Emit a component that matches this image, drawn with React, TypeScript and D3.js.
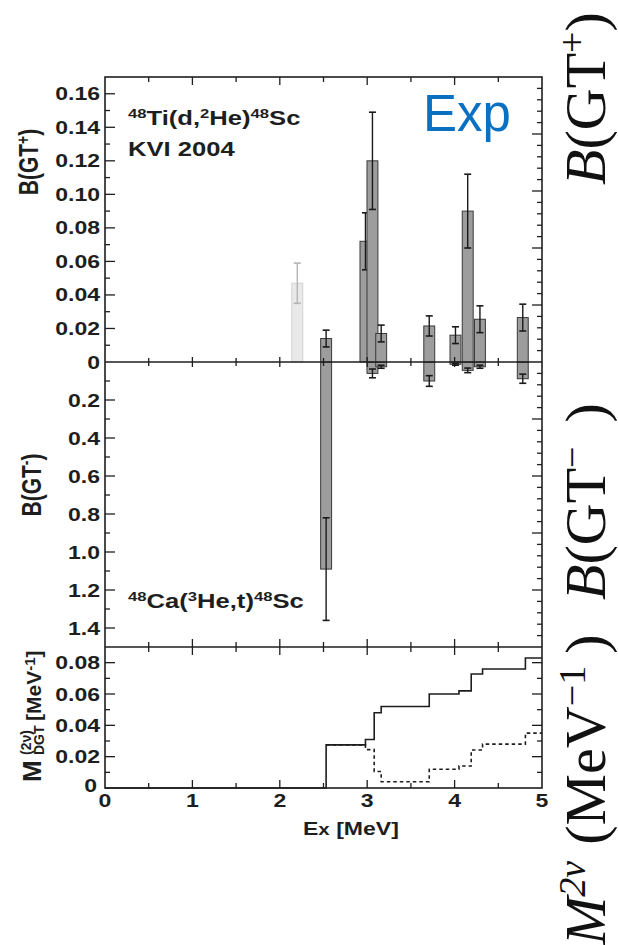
import React from 'react';
import * as d3 from 'd3';

const WIDTH = 618;
const HEIGHT = 945;

// 48Ti(d,2He)48Sc : B(GT+) per level
const plusEx = [2.53, 2.98, 3.06, 3.16, 3.71, 4.01, 4.15, 4.29, 4.78];
const plusB = [0.014, 0.072, 0.12, 0.017, 0.0215, 0.016, 0.09, 0.0255, 0.0265];
const plusErr = [0.005, 0.017, 0.029, 0.005, 0.006, 0.005, 0.022, 0.008, 0.008];
// tentative level, drawn pale
const paleEx = [2.2];
const paleB = [0.047];
const paleErr = [0.012];

// 48Ca(3He,t)48Sc : B(GT-) per level
const minusEx = [2.53, 3.06, 3.16, 3.71, 4.01, 4.15, 4.29, 4.78];
const minusB = [1.09, 0.06, 0.025, 0.1, 0.012, 0.044, 0.025, 0.088];
const minusErr = [0.27, 0.023, 0.008, 0.028, 0.005, 0.012, 0.008, 0.024];

// running sum of M(2v)DGT
const sumEx = [0, 2.53, 2.98, 3.08, 3.16, 3.71, 4.05, 4.19, 4.32, 4.81, 5];
const sumM = [0, 0.0275, 0.031, 0.048, 0.052, 0.06, 0.062, 0.0728, 0.076, 0.083, 0.083];
const dashEx = [2.53, 2.98, 3.08, 3.16, 3.71, 4.05, 4.19, 4.32, 4.81, 5];
const dashM = [0.0275, 0.0245, 0.0105, 0.004, 0.012, 0.014, 0.0243, 0.028, 0.035, 0.035];

const xTickLabels = ['0', '1', '2', '3', '4', '5'];
const plusTickLabels = ['0', '0.02', '0.04', '0.06', '0.08', '0.10', '0.12', '0.14', '0.16'];
const minusTickLabels = ['0.2', '0.4', '0.6', '0.8', '1.0', '1.2', '1.4'];
const sumTickLabels = ['0', '0.02', '0.04', '0.06', '0.08'];

const SANS = '"Liberation Sans", Arial, Helvetica, sans-serif';
const SERIF = '"Liberation Serif", "Times New Roman", serif';
const INK = '#1e1e1e';
const STRETCH = 1.28;

const left = 105, right = 542, top = 77, zero = 362, split = 647, bottom = 788;

const x = d3.scaleLinear().domain([0, 5]).range([left, right]);
const yPlus = d3.scaleLinear().domain([0, 0.17]).range([zero, top]);
const yMinus = d3.scaleLinear().domain([0, 1.5]).range([zero, split]);
const ySum = d3.scaleLinear().domain([0, 0.09]).range([bottom, split]);
// right-hand frame ticks use their own spacing
const rPlus = d3.scaleLinear().domain([0, 5]).range([zero, top]);
const rMinus = d3.scaleLinear().domain([0, 5]).range([zero, split]);

const barW = x(0.125) - x(0);

// parts: [text, raised?, extra props]
function rich(parts: any[], supSize: number, up: number) {
  let off = 0;
  return parts.map((p, i) => {
    const [t, sup, extra] = p;
    const target = sup ? -up : 0;
    const dy = target - off;
    off = target;
    return (
      <tspan key={i} dy={dy} fontSize={sup ? supSize : undefined} {...(extra || {})}>
        {t}
      </tspan>
    );
  });
}

function Stretched({ tx, ty, anchor = 'start', size = 18, children }: any) {
  return (
    <text
      transform={`translate(${tx},${ty}) scale(${STRETCH},1)`}
      textAnchor={anchor}
      fontFamily={SANS}
      fontWeight="bold"
      fontSize={size}
      fill={INK}
    >
      {children}
    </text>
  );
}

function Bar({ cx, y0, y1, e0, e1, fill, stroke, errColor }: any) {
  const ya = Math.min(y0, y1), h = Math.abs(y1 - y0);
  return (
    <g>
      <rect x={cx - barW / 2} y={ya} width={barW} height={h} fill={fill} stroke={stroke} strokeWidth={1} />
      <line x1={cx} x2={cx} y1={e0} y2={e1} stroke={errColor} strokeWidth={1.4} />
      <line x1={cx - 3.5} x2={cx + 3.5} y1={e0} y2={e0} stroke={errColor} strokeWidth={1.6} />
      <line x1={cx - 3.5} x2={cx + 3.5} y1={e1} y2={e1} stroke={errColor} strokeWidth={1.6} />
    </g>
  );
}

export default function App() {
  const ticks: any[] = [];
  const addY = (scale: any, vals: number[], isMajor: (i: number) => boolean, side: 'l' | 'r', key: string) => {
    vals.forEach((v, i) => {
      const len = isMajor(i) ? 10 : 5;
      const yy = scale(v);
      const x0 = side === 'l' ? left : right;
      const x1 = side === 'l' ? left + len : right - len;
      ticks.push(<line key={key + i} x1={x0} x2={x1} y1={yy} y2={yy} stroke={INK} strokeWidth={1.3} />);
    });
  };
  addY(yPlus, d3.range(1, 17).map(i => i * 0.01), i => (i + 1) % 2 === 0, 'l', 'lp');
  addY(yMinus, d3.range(1, 15).map(i => i * 0.1), i => (i + 1) % 2 === 0, 'l', 'lm');
  addY(ySum, d3.range(1, 9).map(i => i * 0.01), i => (i + 1) % 2 === 0, 'l', 'ls');
  addY(rPlus, d3.range(1, 25).map(i => i * 0.2), i => (i + 1) % 5 === 0, 'r', 'rp');
  addY(rMinus, d3.range(1, 25).map(i => i * 0.2), i => (i + 1) % 5 === 0, 'r', 'rm');
  addY(ySum, d3.range(1, 9).map(i => i * 0.01), i => (i + 1) % 2 === 0, 'r', 'rs');

  const xVals = d3.range(1, 10).map(i => i * 0.5);
  xVals.forEach((v, i) => {
    const major = Number.isInteger(v);
    const xx = x(v);
    const l = major ? 8 : 5;
    ticks.push(<line key={'xt' + i} x1={xx} x2={xx} y1={top} y2={top + l} stroke={INK} strokeWidth={1.3} />);
    ticks.push(<line key={'xz' + i} x1={xx} x2={xx} y1={zero - (major ? 5 : 4)} y2={zero + (major ? 5 : 4)} stroke={INK} strokeWidth={1.3} />);
    ticks.push(<line key={'xs' + i} x1={xx} x2={xx} y1={split - l} y2={split + l} stroke={INK} strokeWidth={1.3} />);
    ticks.push(<line key={'xb' + i} x1={xx} x2={xx} y1={bottom - l} y2={bottom} stroke={INK} strokeWidth={1.3} />);
  });

  const sumLine = d3
    .line<number>()
    .x((d, i) => x(sumEx[i]))
    .y(d => ySum(d))
    .curve(d3.curveStepAfter);
  const dashLine = d3
    .line<number>()
    .x((d, i) => x(dashEx[i]))
    .y(d => ySum(d))
    .curve(d3.curveStepAfter);

  return (
    <svg width={WIDTH} height={HEIGHT} style={{ position: 'absolute', left: 0, top: 0, background: '#fff' }}>
      <rect x={0} y={0} width={WIDTH} height={HEIGHT} fill="#fff" />

      {/* pale tentative level */}
      {paleEx.map((e, i) => (
        <Bar
          key={'pale' + i}
          cx={x(e)}
          y0={yPlus(0)}
          y1={yPlus(paleB[i])}
          e0={yPlus(paleB[i] - paleErr[i])}
          e1={yPlus(paleB[i] + paleErr[i])}
          fill="#e9e9e9"
          stroke="#d2d2d2"
          errColor="#b5b5b5"
        />
      ))}

      {/* B(GT-) bars, downwards */}
      {minusEx.map((e, i) => (
        <Bar
          key={'m' + i}
          cx={x(e)}
          y0={yMinus(0)}
          y1={yMinus(minusB[i])}
          e0={yMinus(minusB[i] - minusErr[i])}
          e1={yMinus(minusB[i] + minusErr[i])}
          fill="#9d9d9d"
          stroke="#3a3a3a"
          errColor="#1a1a1a"
        />
      ))}

      {/* B(GT+) bars, upwards */}
      {plusEx.map((e, i) => (
        <Bar
          key={'p' + i}
          cx={x(e)}
          y0={yPlus(0)}
          y1={yPlus(plusB[i])}
          e0={yPlus(plusB[i] - plusErr[i])}
          e1={yPlus(plusB[i] + plusErr[i])}
          fill="#9d9d9d"
          stroke="#3a3a3a"
          errColor="#1a1a1a"
        />
      ))}

      {/* running sums */}
      <path d={sumLine(sumM) || ''} fill="none" stroke={INK} strokeWidth={1.6} />
      <path d={dashLine(dashM) || ''} fill="none" stroke={INK} strokeWidth={1.6} strokeDasharray="3.5,3" />

      {/* frame */}
      <rect x={left} y={top} width={right - left} height={bottom - top} fill="none" stroke={INK} strokeWidth={1.6} />
      <line x1={left} x2={right} y1={zero} y2={zero} stroke={INK} strokeWidth={1.6} />
      <line x1={left} x2={right} y1={split} y2={split} stroke={INK} strokeWidth={1.6} />
      {ticks}

      {/* tick labels */}
      {plusTickLabels.map((t, i) => (
        <Stretched key={'pl' + i} tx={100} ty={yPlus(i * 0.02) + 6.5} anchor="end">{t}</Stretched>
      ))}
      {minusTickLabels.map((t, i) => (
        <Stretched key={'ml' + i} tx={100} ty={yMinus((i + 1) * 0.2) + 6.5} anchor="end">{t}</Stretched>
      ))}
      {sumTickLabels.map((t, i) => (
        <Stretched key={'sl' + i} tx={i === 0 ? 97 : 100} ty={ySum(i * 0.02) + (i === 0 ? 4 : 6.5)} anchor="end">{t}</Stretched>
      ))}
      {xTickLabels.map((t, i) => (
        <Stretched key={'xl' + i} tx={x(i)} ty={807} anchor="middle">{t}</Stretched>
      ))}
      <Stretched tx={303} ty={835} size={18}>
        E<tspan fontSize={16}>x</tspan> [MeV]
      </Stretched>

      {/* panel captions */}
      <Stretched tx={128} ty={125} size={20}>
        {rich([['48', true], ['Ti(d,'], ['2', true], ['He)'], ['48', true], ['Sc']], 13, 7)}
      </Stretched>
      <Stretched tx={128} ty={156} size={20}>KVI 2004</Stretched>
      <Stretched tx={128} ty={608} size={20}>
        {rich([['48', true], ['Ca('], ['3', true], ['He,t)'], ['48', true], ['Sc']], 13, 7)}
      </Stretched>

      <text x={423} y={131} fontFamily={SANS} fontSize={51} fill="#0a70c2">Exp</text>

      {/* left axis titles */}
      <text
        transform={`translate(38,162) scale(${STRETCH},1) rotate(-90)`}
        textAnchor="middle"
        fontFamily={SANS}
        fontWeight="bold"
        fontSize={21}
        fill={INK}
      >
        {rich([['B(GT'], ['+', true], [')']], 14, 7)}
      </text>
      <text
        transform={`translate(41,485) scale(${STRETCH},1) rotate(-90)`}
        textAnchor="middle"
        fontFamily={SANS}
        fontWeight="bold"
        fontSize={21}
        fill={INK}
      >
        {rich([['B(GT'], ['-', true], [')']], 14, 7)}
      </text>
      <g transform="translate(41,782) rotate(-90)" fontFamily={SANS} fontWeight="bold" fill={INK}>
        <text x={0} y={0} fontSize={26}>M</text>
        <text x={27} y={-10} fontSize={14}>(2ν)</text>
        <text x={27} y={3} fontSize={14}>DGT</text>
        <text x={61} y={0} fontSize={21}>
          {rich([['[MeV'], ['-1', true], [']']], 15, 6)}
        </text>
      </g>

      {/* right-hand serif titles */}
      <text transform="translate(605,185) rotate(-90)" fontFamily={SERIF} fontSize={58} fill="#111">
        {rich([['B', false, { fontStyle: 'italic' }], ['(GT'], ['+', true], [')']], 38, 20)}
      </text>
      <text transform="translate(605,600) rotate(-90)" fontFamily={SERIF} fontSize={58} fill="#111">
        {rich([['B', false, { fontStyle: 'italic' }], ['(GT'], ['−', true], [')', false, { dx: 24 }]], 38, 20)}
      </text>
      <text transform="translate(605,945) rotate(-90)" fontFamily={SERIF} fontSize={58} fill="#111">
        {rich(
          [
            ['M', false, { fontStyle: 'italic' }],
            ['2ν', true, { fontStyle: 'italic' }],
            ['(MeV', false, { dx: 16 }],
            ['−1', true],
            [')', false, { dx: 12 }]
          ],
          38,
          20
        )}
      </text>
    </svg>
  );
}
